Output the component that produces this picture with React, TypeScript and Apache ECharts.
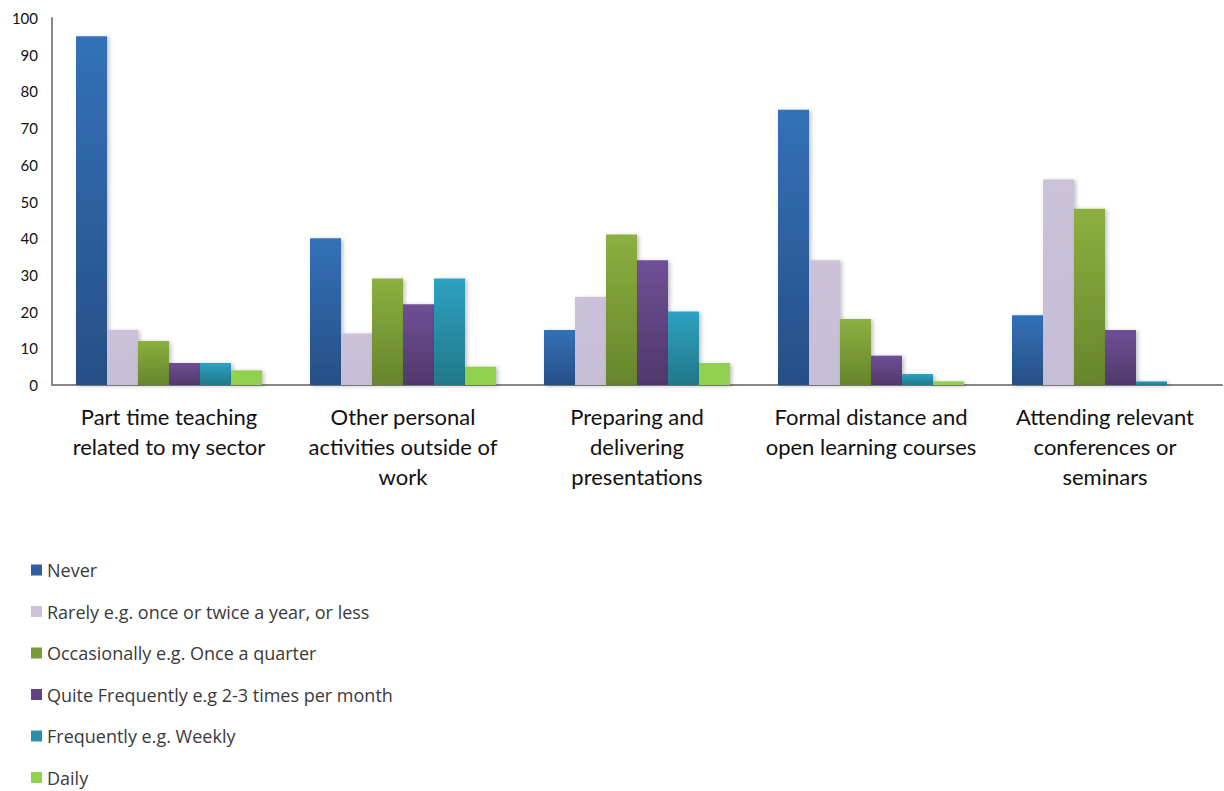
import React, { useEffect, useRef } from "react";
import * as echarts from "echarts";

const categories = [
  "Part time teaching\nrelated to my sector",
  "Other personal\nactivities outside of\nwork",
  "Preparing and\ndelivering\npresentations",
  "Formal distance and\nopen learning courses",
  "Attending relevant\nconferences or\nseminars",
];

const seriesNames = [
  "Never",
  "Rarely e.g. once or twice a year, or less",
  "Occasionally e.g. Once a quarter",
  "Quite Frequently e.g 2-3 times per month",
  "Frequently e.g. Weekly",
  "Daily",
];

const never = [95, 40, 15, 75, 19];
const rarely = [15, 14, 24, 34, 56];
const occasionally = [12, 29, 41, 18, 48];
const quiteFrequently = [6, 22, 34, 8, 15];
const frequently = [6, 29, 20, 3, 1];
const daily = [4, 5, 6, 1, 0];

const seriesValues = [never, rarely, occasionally, quiteFrequently, frequently, daily];

const topColors = ["#3371B8", "#CBC2DA", "#8CB040", "#6F4F96", "#2FA1C2", "#92D050"];
const bottomColors = ["#274F86", "#C6BDD6", "#66852C", "#50386B", "#217889", "#92D050"];
const legendColors = ["#2E5E9E", "#CBC2DA", "#7A9C36", "#5F447F", "#2A8EAA", "#92D050"];

const yTicks = { min: 0, max: 100, interval: 10 };

export default function App() {
  const ref = useRef<HTMLDivElement>(null);

  useEffect(() => {
    if (!ref.current) return;
    const chart = echarts.init(ref.current, undefined, { renderer: "svg" });
    const series = seriesNames.map((name, i) => ({
      name,
      type: "bar" as const,
      data: seriesValues[i],
      barWidth: 31,
      barGap: "0%",
      itemStyle: {
        color: new echarts.graphic.LinearGradient(0, 0, 0, 1, [
          { offset: 0, color: topColors[i] },
          { offset: 1, color: bottomColors[i] },
        ]),
        shadowColor: "rgba(0,0,0,0.25)",
        shadowBlur: 4,
        shadowOffsetX: 2,
        shadowOffsetY: 1,
      },
    }));
    chart.setOption({
      animation: false,
      backgroundColor: "#ffffff",
      textStyle: { fontFamily: "Lato, 'Open Sans', sans-serif" },
      grid: { left: 52, right: 2, top: 18, bottom: 406, containLabel: false },
      legend: {
        orient: "vertical",
        left: 26,
        top: 556,
        height: 240,
        icon: "rect",
        itemWidth: 11,
        itemHeight: 11,
        itemGap: 23.5,
        data: seriesNames.map((n, i) => ({ name: n, itemStyle: { color: legendColors[i] } })),
        textStyle: {
          fontSize: 18,
          lineHeight: 18,
          color: "#3a3a3a",
          fontFamily: "'Open Sans', sans-serif",
        },
        selectedMode: false,
      },
      xAxis: {
        type: "category",
        data: categories,
        axisTick: { show: false },
        axisLine: { show: true, lineStyle: { color: "#878787", width: 2 } },
        axisLabel: {
          interval: 0,
          fontSize: 22,
          lineHeight: 30,
          color: "#111",
          margin: 16,
          align: "center",
          verticalAlign: "top",
        },
      },
      yAxis: {
        type: "value",
        min: yTicks.min,
        max: yTicks.max,
        interval: yTicks.interval,
        axisLine: { show: true, lineStyle: { color: "#878787", width: 2 } },
        axisTick: { show: false },
        axisLabel: { fontSize: 15, color: "#111", margin: 14 },
        splitLine: {
          show: true,
          lineStyle: {
            color: "#8a8a8a",
            width: 2,
            shadowColor: "rgba(0,0,0,0.2)",
            shadowBlur: 2,
            shadowOffsetY: 1,
          },
        },
      },
      series,
    });
    return () => chart.dispose();
  }, []);

  return (
    <div
      ref={ref}
      style={{ position: "fixed", left: 0, top: 0, width: 1224, height: 791, background: "#fff" }}
    />
  );
}
